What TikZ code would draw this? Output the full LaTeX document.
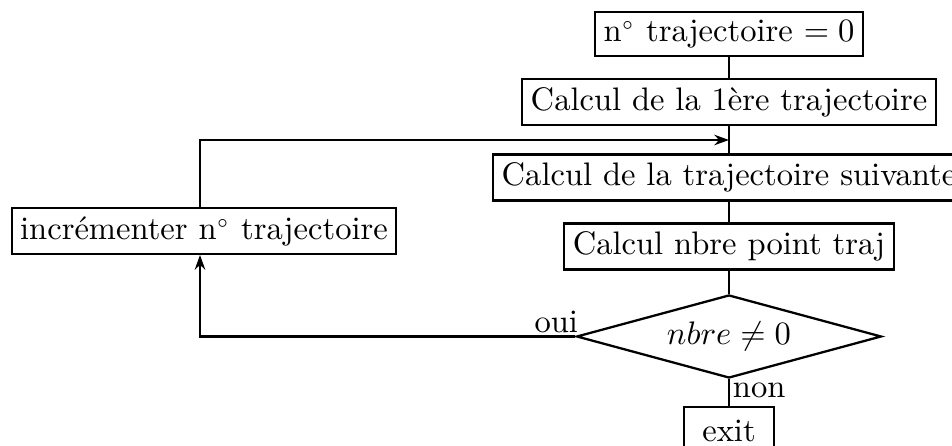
\documentclass[tikz,border=0pt]{standalone}
\usetikzlibrary{shapes.geometric,arrows.meta}
\begin{document}
\begin{tikzpicture}[x=0.307pt,y=-0.307pt,
  box/.style={draw,rectangle,line width=0.7pt,inner xsep=2.6pt,inner ysep=2.5pt},
  dec/.style={draw,diamond,line width=0.7pt,aspect=3.67,minimum width=93.6pt,minimum height=25.5pt,inner sep=0pt},
  conn/.style={line width=0.7pt},
  arr/.style={line width=0.7pt,-{Stealth[length=4.5pt,width=3.2pt]}}]
\useasboundingbox (0,0) rectangle (952,446);
\clip (0,0) rectangle (952,446);
\node[box] (b1) at (729,34) {n$^{\scriptscriptstyle\circ}$ trajectoire $= 0$};
\node[box] (b2) at (729,102) {Calcul de la 1ère trajectoire};
\node[box] (b3) at (729,177.5) {Calcul de la trajectoire suivante};
\node[box] (b5) at (729,246.5) {Calcul nbre point traj};
\node[dec] (d) at (729,336.5) {$nbre \neq 0$};
\node[box,minimum width=27.6pt,minimum height=14.4pt] (ex) at (729,430.5) {exit};
\node[box] (b4) at (204,231) {incrémenter n$^{\scriptscriptstyle\circ}$ trajectoire};
\coordinate (m) at (729,140);
\draw[conn] (b1) -- (b2);
\draw[conn] (b2) -- (b3);
\draw[conn] (b3) -- (b5);
\draw[conn] (b5) -- (d);
\draw[conn] (d) -- (ex);
\coordinate (lc) at (200,336.5);
\draw[arr] (d.west) -- (lc) -- (lc |- b4.south);
\draw[arr] (b4.north -| lc) |- (m);
\node[anchor=south east,inner sep=1pt] (oui) at ([xshift=2pt]d.west) {oui};
\node[anchor=north west,inner sep=1pt] (non) at (d.south) {non};
\end{tikzpicture}
\end{document}
